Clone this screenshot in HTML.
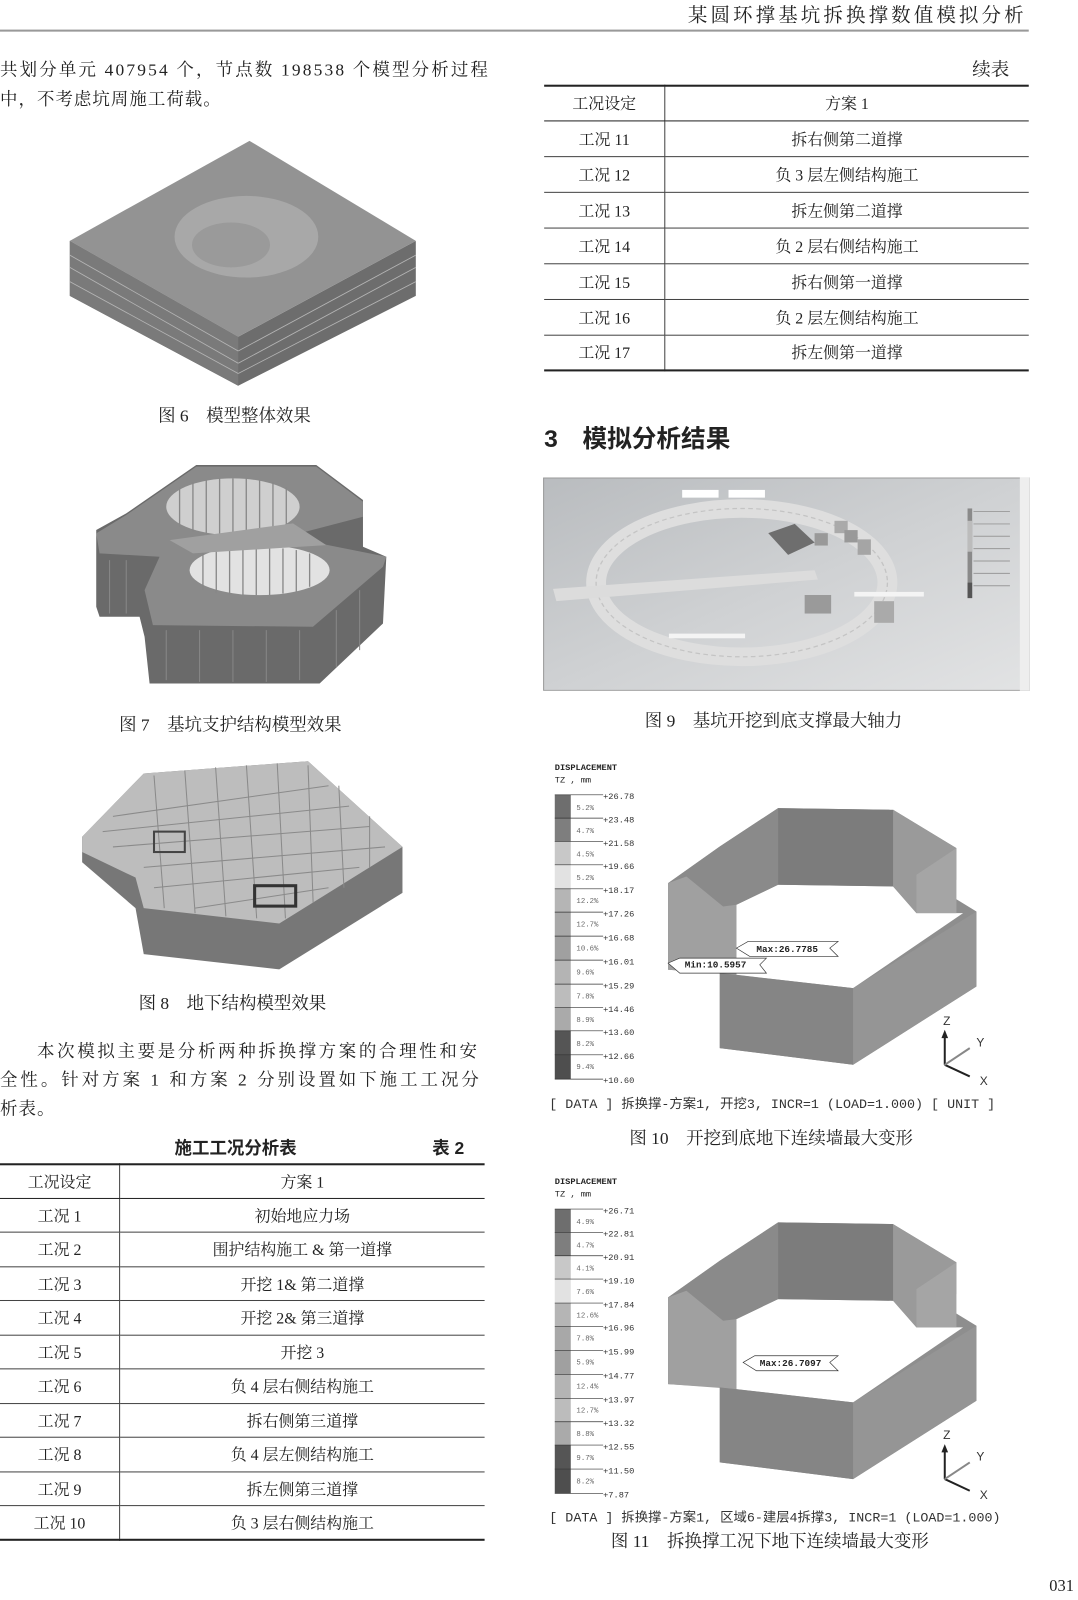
<!DOCTYPE html>
<html><head><meta charset="utf-8">
<style>
html,body{margin:0;padding:0;background:#fff;}
#wrap{position:relative;width:1078px;height:1600px;overflow:hidden;}
#pg{position:absolute;left:0;top:0;width:1050px;height:1568px;transform-origin:0 0;transform:scale(1.0267,1.0204);
font-family:"Liberation Serif","Noto Serif CJK SC","Noto Sans CJK SC",serif;color:#222;}
.a{position:absolute;white-space:nowrap;}
.t{font-size:17px;}
.cap{font-size:17px;}
table{border-collapse:collapse;position:absolute;font-size:15.5px;}
td{text-align:center;padding:0;border-bottom:1px solid #444;}
td.l{border-right:1px solid #444;}
svg{position:absolute;}
.mono{font-family:"Liberation Mono",monospace;}
</style></head><body><div id="wrap"><div id="pg">

<div class="a" style="right:50px;top:0;font-size:19px;letter-spacing:3px;">某圆环撑基坑拆换撑数值模拟分析</div>
<div class="a" style="left:0;top:29px;width:1002px;height:2px;background:#999;"></div>

<div class="a t" style="left:0;top:54px;letter-spacing:2.1px;">共划分单元 407954 个，节点数 198538 个模型分析过程</div>
<div class="a t" style="left:0;top:83px;letter-spacing:1px;">中，不考虑坑周施工荷载。</div>

<!-- Fig 6 -->
<svg style="left:60px;top:130px" width="360" height="255" viewBox="60 130 360 255">
<polygon points="68,290 232,378 405,290 405,236 232,330 68,236" fill="#6d6d6d"/>
<polygon points="68,236 232,330 232,378 68,290" fill="#7a7a7a"/>
<g stroke="#b5b5b5" stroke-width="0.8">
<line x1="68" y1="250" x2="232" y2="344"/><line x1="68" y1="262" x2="232" y2="356"/><line x1="68" y1="276" x2="232" y2="366"/>
<line x1="232" y1="344" x2="405" y2="250"/><line x1="232" y1="356" x2="405" y2="262"/><line x1="232" y1="366" x2="405" y2="276"/>
</g>
<polygon points="68,236 243,138 405,236 232,330" fill="#939393"/>
<ellipse cx="240" cy="232" rx="70" ry="40" fill="#a8a8a8"/>
<ellipse cx="225" cy="240" rx="38" ry="22" fill="#9a9a9a"/>
</svg>
<div class="a cap" style="left:154px;top:393px;">图 6　模型整体效果</div>

<!-- Fig 7 -->
<svg style="left:58.4px;top:441px" width="341" height="255" viewBox="0 0 1050 780" preserveAspectRatio="none">
<polygon points="110,240 200,190 410,45 770,45 910,150 910,290 980,320 970,520 780,700 270,700 255,560 240,500 120,500 110,470" fill="#6a6a6a"/>
<g stroke="#888" stroke-width="3">
<line x1="150" y1="330" x2="150" y2="490"/><line x1="200" y1="330" x2="200" y2="490"/><line x1="320" y1="540" x2="320" y2="690"/><line x1="420" y1="540" x2="420" y2="695"/><line x1="520" y1="540" x2="520" y2="695"/><line x1="620" y1="540" x2="620" y2="695"/><line x1="720" y1="540" x2="720" y2="690"/><line x1="830" y1="480" x2="830" y2="650"/><line x1="900" y1="420" x2="900" y2="600"/>
</g>
<polygon points="110,250 200,195 410,50 770,50 910,155 910,200 680,260 980,320 970,350 760,530 280,525 255,420 300,320 120,310" fill="#8a8a8a"/>
<ellipse cx="520" cy="170" rx="200" ry="85" fill="#cfcfcf"/>
<ellipse cx="600" cy="360" rx="210" ry="75" fill="#e2e2e2"/>
<g stroke="#888" stroke-width="4">
<line x1="360" y1="110" x2="360" y2="230"/><line x1="400" y1="95" x2="400" y2="245"/><line x1="440" y1="90" x2="440" y2="250"/><line x1="480" y1="85" x2="480" y2="255"/><line x1="520" y1="85" x2="520" y2="255"/><line x1="560" y1="85" x2="560" y2="255"/><line x1="600" y1="90" x2="600" y2="250"/><line x1="640" y1="95" x2="640" y2="245"/><line x1="680" y1="110" x2="680" y2="230"/>
<line x1="430" y1="300" x2="430" y2="420"/><line x1="470" y1="295" x2="470" y2="430"/><line x1="510" y1="290" x2="510" y2="435"/><line x1="550" y1="290" x2="550" y2="435"/><line x1="590" y1="290" x2="590" y2="435"/><line x1="630" y1="290" x2="630" y2="435"/><line x1="670" y1="295" x2="670" y2="430"/><line x1="710" y1="300" x2="710" y2="425"/><line x1="750" y1="310" x2="750" y2="410"/>
</g>
<polygon points="330,270 700,220 800,285 400,310" fill="#a0a0a0"/>
</svg>
<div class="a cap" style="left:116px;top:696px;">图 7　基坑支护结构模型效果</div>

<!-- Fig 8 -->
<svg style="left:75px;top:740px" width="325" height="215" viewBox="75 740 325 215">
<polygon points="80,820 140,758 300,746 392,830 392,875 272,950 140,935 132,890 80,845" fill="#777"/>
<polygon points="80,820 140,758 300,746 392,830 272,905 140,890 132,860 80,835" fill="#bdbdbd"/>
<g stroke="#8a8a8a" stroke-width="1">
<line x1="110" y1="800" x2="320" y2="770"/><line x1="100" y1="815" x2="340" y2="790"/><line x1="110" y1="830" x2="360" y2="810"/><line x1="140" y1="850" x2="375" y2="830"/><line x1="150" y1="870" x2="350" y2="850"/><line x1="190" y1="890" x2="320" y2="870"/>
<line x1="150" y1="760" x2="160" y2="890"/><line x1="180" y1="755" x2="190" y2="895"/><line x1="210" y1="752" x2="220" y2="898"/><line x1="240" y1="750" x2="250" y2="900"/><line x1="270" y1="748" x2="278" y2="900"/><line x1="300" y1="750" x2="305" y2="885"/><line x1="330" y1="770" x2="335" y2="870"/><line x1="360" y1="800" x2="360" y2="850"/>
</g>
<rect x="150" y="815" width="30" height="20" fill="none" stroke="#444" stroke-width="2"/>
<rect x="248" y="868" width="40" height="20" fill="none" stroke="#333" stroke-width="3"/>
</svg>
<div class="a cap" style="left:135px;top:969px;">图 8　地下结构模型效果</div>

<div class="a t" style="left:36px;top:1016px;letter-spacing:2.6px;">本次模拟主要是分析两种拆换撑方案的合理性和安</div>
<div class="a t" style="left:0;top:1044px;letter-spacing:2.9px;">全性。针对方案 1 和方案 2 分别设置如下施工工况分</div>
<div class="a t" style="left:0;top:1072px;letter-spacing:1px;">析表。</div>

<div class="a" style="left:170px;top:1111px;font-size:17px;font-weight:bold;font-family:'Liberation Sans','Noto Sans CJK SC',sans-serif;">施工工况分析表</div>
<div class="a" style="left:421px;top:1111px;font-size:17px;font-weight:bold;font-family:'Liberation Sans','Noto Sans CJK SC',sans-serif;">表 2</div>

<table style="left:0;top:1140px;width:472px;border-top:2px solid #222;border-bottom:2px solid #222;">
<tr style="height:33px"><td class="l" style="width:116px;border-bottom:1.5px solid #222">工况设定</td><td style="border-bottom:1.5px solid #222">方案 1</td></tr>
<tr style="height:33.5px"><td class="l">工况 1</td><td>初始地应力场</td></tr>
<tr style="height:33.5px"><td class="l">工况 2</td><td>围护结构施工 &amp; 第一道撑</td></tr>
<tr style="height:33.5px"><td class="l">工况 3</td><td>开挖 1&amp; 第二道撑</td></tr>
<tr style="height:33.5px"><td class="l">工况 4</td><td>开挖 2&amp; 第三道撑</td></tr>
<tr style="height:33.5px"><td class="l">工况 5</td><td>开挖 3</td></tr>
<tr style="height:33.5px"><td class="l">工况 6</td><td>负 4 层右侧结构施工</td></tr>
<tr style="height:33.5px"><td class="l">工况 7</td><td>拆右侧第三道撑</td></tr>
<tr style="height:33.5px"><td class="l">工况 8</td><td>负 4 层左侧结构施工</td></tr>
<tr style="height:33.5px"><td class="l">工况 9</td><td>拆左侧第三道撑</td></tr>
<tr style="height:33.5px"><td class="l" style="border-bottom:none">工况 10</td><td style="border-bottom:none">负 3 层右侧结构施工</td></tr>
</table>

<!-- right column -->
<div class="a" style="left:947px;top:54px;font-size:18px;">续表</div>
<table style="left:530px;top:83px;width:472px;border-top:2px solid #222;border-bottom:2px solid #222;">
<tr style="height:34px"><td class="l" style="width:117px;border-bottom:1.5px solid #222">工况设定</td><td style="border-bottom:1.5px solid #222">方案 1</td></tr>
<tr style="height:35px"><td class="l">工况 11</td><td>拆右侧第二道撑</td></tr>
<tr style="height:35px"><td class="l">工况 12</td><td>负 3 层左侧结构施工</td></tr>
<tr style="height:35px"><td class="l">工况 13</td><td>拆左侧第二道撑</td></tr>
<tr style="height:35px"><td class="l">工况 14</td><td>负 2 层右侧结构施工</td></tr>
<tr style="height:35px"><td class="l">工况 15</td><td>拆右侧第一道撑</td></tr>
<tr style="height:35px"><td class="l">工况 16</td><td>负 2 层左侧结构施工</td></tr>
<tr style="height:35px"><td class="l" style="border-bottom:none">工况 17</td><td style="border-bottom:none">拆左侧第一道撑</td></tr>
</table>

<div class="a" style="left:530px;top:410px;font-size:24px;font-weight:bold;font-family:'Liberation Sans','Noto Sans CJK SC',sans-serif;">3　模拟分析结果</div>

<!-- Fig 9 -->
<svg style="left:529px;top:468px" width="474" height="209" viewBox="0 0 1470 690" preserveAspectRatio="none">
<defs><linearGradient id="g9" x1="0" y1="0" x2="1" y2="1"><stop offset="0" stop-color="#b9bcbf"/><stop offset="0.5" stop-color="#cfd1d3"/><stop offset="1" stop-color="#e2e3e4"/></linearGradient></defs>
<rect x="0" y="0" width="1470" height="690" fill="url(#g9)"/>
<rect x="0" y="0" width="1470" height="690" fill="none" stroke="#999" stroke-width="6"/>
<rect x="1440" y="0" width="30" height="690" fill="#eee"/>
<ellipse cx="600" cy="340" rx="440" ry="240" fill="none" stroke="#dedede" stroke-width="60"/>
<ellipse cx="600" cy="340" rx="440" ry="240" fill="none" stroke="#c4c4c4" stroke-width="4" stroke-dasharray="14 10"/>
<polygon points="680,180 760,150 820,210 740,250" fill="#6e6e6e"/>
<rect x="820" y="180" width="40" height="40" fill="#999"/><rect x="880" y="140" width="40" height="40" fill="#aaa"/><rect x="910" y="170" width="40" height="40" fill="#999"/><rect x="950" y="200" width="40" height="50" fill="#a5a5a5"/>
<rect x="790" y="380" width="80" height="60" fill="#9a9a9a"/><rect x="1000" y="400" width="60" height="70" fill="#aaa"/>
<polygon points="30,360 820,300 830,330 40,400" fill="#dcdcdc"/>
<rect x="940" y="370" width="210" height="15" fill="#f4f4f4"/>
<rect x="380" y="505" width="230" height="15" fill="#f4f4f4"/>
<rect x="1282" y="100" width="14" height="290" fill="#8a8a8a"/>
<rect x="1282" y="140" width="14" height="100" fill="#bcbcbc"/>
<rect x="1282" y="340" width="14" height="50" fill="#555"/>
<g stroke="#999" stroke-width="3"><line x1="1300" y1="110" x2="1410" y2="110"/><line x1="1300" y1="150" x2="1410" y2="150"/><line x1="1300" y1="190" x2="1410" y2="190"/><line x1="1300" y1="230" x2="1410" y2="230"/><line x1="1300" y1="270" x2="1410" y2="270"/><line x1="1300" y1="310" x2="1410" y2="310"/><line x1="1300" y1="350" x2="1410" y2="350"/></g>
<rect x="420" y="40" width="110" height="25" fill="#fff"/><rect x="560" y="40" width="110" height="25" fill="#fff"/>
</svg>
<div class="a cap" style="left:628px;top:692px;">图 9　基坑开挖到底支撑最大轴力</div>

<!-- Fig 10 -->
<svg style="left:516.2px;top:725.2px" width="467.5" height="343" viewBox="0 0 1440 1050" preserveAspectRatio="none">
<g id="f10">
<polygon points="415,430 570,320 745,205 1090,210 1280,325 1160,405 1340,515 1340,740 970,975 570,925 570,700 415,690" fill="#8e8e8e"/>
<polygon points="620,495 745,435 1090,440 1160,520 1300,520 970,745 620,705" fill="#fff"/>
<polygon points="415,430 570,320 745,205 745,435 620,495 580,500 415,690" fill="#8a8a8a"/>
<polygon points="745,205 1090,210 1090,440 745,435" fill="#7c7c7c"/>
<polygon points="1090,210 1280,325 1280,420 1160,520 1090,440" fill="#9a9a9a"/>
<polygon points="1160,405 1280,325 1280,520 1160,520" fill="#a5a5a5"/>
<polygon points="415,430 470,410 580,500 620,495 620,705 415,690" fill="#a0a0a0"/>
<polygon points="570,700 970,745 970,975 570,925" fill="#858585"/>
<polygon points="970,745 1340,515 1340,740 970,975" fill="#959595"/>
</g>
<polygon points="620,625 655,605 925,605 900,625 925,650 660,650" fill="#fff" stroke="#333" stroke-width="2"/>
<text x="680" y="636" font-family="Liberation Mono,monospace" font-size="28" font-weight="bold" fill="#222">Max:26.7785</text>
<polygon points="415,670 450,655 710,655 690,675 710,700 450,700" fill="#fff" stroke="#333" stroke-width="2"/>
<text x="465" y="683" font-family="Liberation Mono,monospace" font-size="28" font-weight="bold" fill="#222">Min:10.5957</text>
<text x="75" y="90" font-family="Liberation Mono,monospace" font-size="26" font-weight="bold" fill="#222">DISPLACEMENT</text>
<text x="75" y="128" font-family="Liberation Mono,monospace" font-size="26" fill="#222">TZ , mm</text>
<g>
<rect x="75" y="165" width="48" height="70" fill="#6e6e6e"/><rect x="75" y="235" width="48" height="70" fill="#7e7e7e"/>
<rect x="75" y="305" width="48" height="70" fill="#c8c8c8"/><rect x="75" y="375" width="48" height="72" fill="#e2e2e2"/>
<rect x="75" y="447" width="48" height="70" fill="#b5b5b5"/><rect x="75" y="517" width="48" height="72" fill="#a8a8a8"/>
<rect x="75" y="589" width="48" height="72" fill="#a0a0a0"/><rect x="75" y="661" width="48" height="72" fill="#b4b4b4"/>
<rect x="75" y="733" width="48" height="70" fill="#bcbcbc"/><rect x="75" y="803" width="48" height="70" fill="#aaaaaa"/>
<rect x="75" y="873" width="48" height="72" fill="#555"/><rect x="75" y="945" width="48" height="73" fill="#4e4e4e"/>
</g>
<g stroke="#333" stroke-width="2">
<line x1="75" y1="165" x2="220" y2="165"/><line x1="75" y1="235" x2="220" y2="235"/><line x1="75" y1="305" x2="220" y2="305"/><line x1="75" y1="375" x2="220" y2="375"/><line x1="75" y1="447" x2="220" y2="447"/><line x1="75" y1="517" x2="220" y2="517"/><line x1="75" y1="589" x2="220" y2="589"/><line x1="75" y1="661" x2="220" y2="661"/><line x1="75" y1="733" x2="220" y2="733"/><line x1="75" y1="803" x2="220" y2="803"/><line x1="75" y1="873" x2="220" y2="873"/><line x1="75" y1="945" x2="220" y2="945"/><line x1="75" y1="1018" x2="220" y2="1018"/>
</g>
<g font-family="Liberation Mono,monospace" font-size="26" fill="#333">
<text x="220" y="178">+26.78</text><text x="220" y="248">+23.48</text><text x="220" y="318">+21.58</text><text x="220" y="388">+19.66</text><text x="220" y="460">+18.17</text><text x="220" y="530">+17.26</text><text x="220" y="602">+16.68</text><text x="220" y="674">+16.01</text><text x="220" y="746">+15.29</text><text x="220" y="816">+14.46</text><text x="220" y="886">+13.60</text><text x="220" y="958">+12.66</text><text x="220" y="1030">+10.60</text>
</g>
<g font-family="Liberation Mono,monospace" font-size="22" fill="#666">
<text x="140" y="210">5.2%</text><text x="140" y="280">4.7%</text><text x="140" y="350">4.5%</text><text x="140" y="420">5.2%</text><text x="140" y="490">12.2%</text><text x="140" y="560">12.7%</text><text x="140" y="632">10.6%</text><text x="140" y="704">9.6%</text><text x="140" y="776">7.8%</text><text x="140" y="846">8.9%</text><text x="140" y="918">8.2%</text><text x="140" y="988">9.4%</text>
</g>
<g stroke="#222" stroke-width="6" fill="none"><line x1="1245" y1="975" x2="1245" y2="880"/><line x1="1245" y1="975" x2="1320" y2="1010"/><line x1="1245" y1="975" x2="1320" y2="925" stroke="#888"/></g>
<polygon points="1245,870 1235,895 1255,895" fill="#222"/>
<g font-family="Liberation Sans,sans-serif" font-size="36" fill="#333"><text x="1240" y="855">Z</text><text x="1340" y="920">Y</text><text x="1350" y="1035">X</text></g>
</svg>
<div class="a mono" style="left:535px;top:1071px;font-size:13px;color:#333;font-family:'Liberation Mono','Noto Sans CJK SC',monospace;">[ DATA ]  拆换撑-方案1,  开挖3,  INCR=1 (LOAD=1.000)    [ UNIT ]</div>
<div class="a cap" style="left:613px;top:1101px;">图 10　开挖到底地下连续墙最大变形</div>

<!-- Fig 11 -->
<svg style="left:516.2px;top:1131px" width="467.5" height="343" viewBox="0 0 1440 1050" preserveAspectRatio="none">
<use href="#f10"/>
<polygon points="640,625 675,605 925,605 900,625 925,650 680,650" fill="#fff" stroke="#333" stroke-width="2"/>
<text x="690" y="636" font-family="Liberation Mono,monospace" font-size="28" font-weight="bold" fill="#222">Max:26.7097</text>
<text x="75" y="90" font-family="Liberation Mono,monospace" font-size="26" font-weight="bold" fill="#222">DISPLACEMENT</text>
<text x="75" y="128" font-family="Liberation Mono,monospace" font-size="26" fill="#222">TZ , mm</text>
<g>
<rect x="75" y="165" width="48" height="70" fill="#6e6e6e"/><rect x="75" y="235" width="48" height="70" fill="#7e7e7e"/>
<rect x="75" y="305" width="48" height="70" fill="#c8c8c8"/><rect x="75" y="375" width="48" height="72" fill="#e2e2e2"/>
<rect x="75" y="447" width="48" height="70" fill="#b5b5b5"/><rect x="75" y="517" width="48" height="72" fill="#a8a8a8"/>
<rect x="75" y="589" width="48" height="72" fill="#a0a0a0"/><rect x="75" y="661" width="48" height="72" fill="#b4b4b4"/>
<rect x="75" y="733" width="48" height="70" fill="#bcbcbc"/><rect x="75" y="803" width="48" height="70" fill="#aaaaaa"/>
<rect x="75" y="873" width="48" height="72" fill="#555"/><rect x="75" y="945" width="48" height="73" fill="#4e4e4e"/>
</g>
<g stroke="#333" stroke-width="2">
<line x1="75" y1="165" x2="220" y2="165"/><line x1="75" y1="235" x2="220" y2="235"/><line x1="75" y1="305" x2="220" y2="305"/><line x1="75" y1="375" x2="220" y2="375"/><line x1="75" y1="447" x2="220" y2="447"/><line x1="75" y1="517" x2="220" y2="517"/><line x1="75" y1="589" x2="220" y2="589"/><line x1="75" y1="661" x2="220" y2="661"/><line x1="75" y1="733" x2="220" y2="733"/><line x1="75" y1="803" x2="220" y2="803"/><line x1="75" y1="873" x2="220" y2="873"/><line x1="75" y1="945" x2="220" y2="945"/><line x1="75" y1="1018" x2="220" y2="1018"/>
</g>
<g font-family="Liberation Mono,monospace" font-size="26" fill="#333">
<text x="220" y="178">+26.71</text><text x="220" y="248">+22.81</text><text x="220" y="318">+20.91</text><text x="220" y="388">+19.10</text><text x="220" y="460">+17.84</text><text x="220" y="530">+16.96</text><text x="220" y="602">+15.99</text><text x="220" y="674">+14.77</text><text x="220" y="746">+13.97</text><text x="220" y="816">+13.32</text><text x="220" y="886">+12.55</text><text x="220" y="958">+11.50</text><text x="220" y="1030">+7.87</text>
</g>
<g font-family="Liberation Mono,monospace" font-size="22" fill="#666">
<text x="140" y="210">4.9%</text><text x="140" y="280">4.7%</text><text x="140" y="350">4.1%</text><text x="140" y="420">7.6%</text><text x="140" y="490">12.6%</text><text x="140" y="560">7.8%</text><text x="140" y="632">5.9%</text><text x="140" y="704">12.4%</text><text x="140" y="776">12.7%</text><text x="140" y="846">8.8%</text><text x="140" y="918">9.7%</text><text x="140" y="988">8.2%</text>
</g>
<g stroke="#222" stroke-width="6" fill="none"><line x1="1245" y1="975" x2="1245" y2="880"/><line x1="1245" y1="975" x2="1320" y2="1010"/><line x1="1245" y1="975" x2="1320" y2="925" stroke="#888"/></g>
<polygon points="1245,870 1235,895 1255,895" fill="#222"/>
<g font-family="Liberation Sans,sans-serif" font-size="36" fill="#333"><text x="1240" y="855">Z</text><text x="1340" y="920">Y</text><text x="1350" y="1035">X</text></g>
</svg>
<div class="a mono" style="left:535px;top:1476px;font-size:13px;color:#333;font-family:'Liberation Mono','Noto Sans CJK SC',monospace;">[ DATA ]  拆换撑-方案1,  区域6-建层4拆撑3,  INCR=1 (LOAD=1.000)</div>
<div class="a cap" style="left:595px;top:1496px;">图 11　拆换撑工况下地下连续墙最大变形</div>

<div class="a" style="left:1022px;top:1546px;font-size:16px;">031</div>
</div></div></body></html>
